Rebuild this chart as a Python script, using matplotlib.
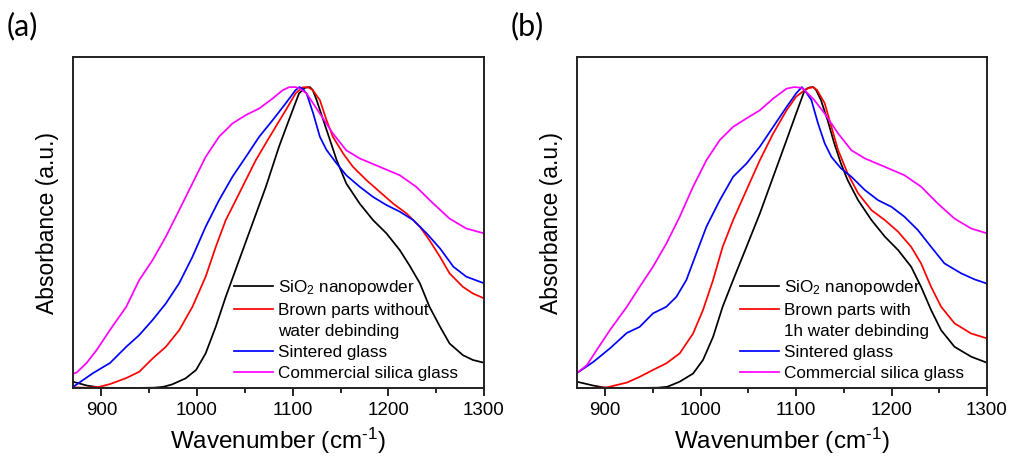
import matplotlib
matplotlib.use("Agg")
import matplotlib.pyplot as plt
from matplotlib.lines import Line2D
from matplotlib.ticker import MultipleLocator

plt.rcParams['font.family'] = ['Liberation Sans', 'DejaVu Sans']
plt.rcParams['mathtext.fontset'] = 'custom'
plt.rcParams['mathtext.rm'] = 'Liberation Sans'
plt.rcParams['mathtext.it'] = 'Liberation Sans:italic'

# ---- panel (a) ----
a_black_x = [870, 885, 900, 930, 955, 965, 974, 988, 999, 1009, 1019.6, 1030, 1044, 1058, 1072, 1085.7, 1096,
             1106.6, 1113, 1118, 1121, 1125, 1132, 1139, 1146, 1156, 1170, 1184, 1198, 1212, 1222, 1233, 1243,
             1254, 1264, 1278, 1288.5, 1300]
a_black_y = [0.021, 0.008, 0.001, 0.000, 0.001, 0.004, 0.012, 0.032, 0.060, 0.115, 0.204, 0.303, 0.425, 0.547,
             0.669, 0.802, 0.890, 0.979, 0.998, 1.000, 0.990, 0.957, 0.890, 0.824, 0.757, 0.680, 0.613, 0.558,
             0.514, 0.458, 0.408, 0.348, 0.270, 0.204, 0.148, 0.109, 0.093, 0.084]

a_red_x = [870, 885, 898, 909, 926, 939.6, 953.5, 967.4, 981.3, 995.2, 1009, 1019.6, 1030, 1040.5, 1051, 1061.4,
           1071.8, 1082.2, 1092.7, 1103, 1110, 1116, 1121, 1128.4, 1135.4, 1142, 1152.8, 1163, 1177, 1191, 1205,
           1219, 1233, 1243, 1254, 1264, 1278, 1288.5, 1300]
a_red_y = [0.002, 0.001, 0.004, 0.013, 0.033, 0.054, 0.098, 0.137, 0.192, 0.270, 0.370, 0.469, 0.558, 0.624,
           0.691, 0.757, 0.813, 0.868, 0.923, 0.979, 0.999, 1.000, 0.990, 0.957, 0.890, 0.835, 0.779, 0.735,
           0.691, 0.652, 0.613, 0.580, 0.536, 0.491, 0.436, 0.381, 0.336, 0.314, 0.298]

a_blue_x = [870.6, 891.5, 909, 926, 939.6, 953.5, 967.4, 981.3, 995.2, 1009, 1023, 1037, 1051, 1065, 1079, 1092.7,
            1103, 1107, 1110, 1114.5, 1121.5, 1128.4, 1135.4, 1146, 1156, 1170, 1184, 1198, 1212, 1226, 1240,
            1254, 1268, 1281.5, 1300]
a_blue_y = [0.004, 0.050, 0.083, 0.137, 0.176, 0.226, 0.281, 0.348, 0.436, 0.536, 0.624, 0.702, 0.768, 0.835,
            0.890, 0.946, 0.990, 1.000, 0.995, 0.979, 0.912, 0.835, 0.791, 0.746, 0.707, 0.669, 0.635, 0.608,
            0.586, 0.558, 0.514, 0.464, 0.403, 0.370, 0.348]

a_mag_x = [870, 874, 884.5, 895, 909, 926, 939.6, 953.5, 967.4, 981.3, 995.2, 1009, 1023, 1037, 1051, 1065, 1079,
           1089.6, 1096.6, 1103, 1107.5, 1114.5, 1128.4, 1142, 1156, 1170, 1191, 1212, 1229, 1247, 1264, 1281.5,
           1300]
a_mag_y = [0.047, 0.051, 0.083, 0.126, 0.193, 0.270, 0.359, 0.425, 0.503, 0.591, 0.680, 0.768, 0.835, 0.879,
           0.907, 0.929, 0.962, 0.990, 1.000, 1.000, 0.995, 0.979, 0.912, 0.846, 0.790, 0.763, 0.735, 0.707,
           0.669, 0.613, 0.563, 0.530, 0.514]

# ---- panel (b) ----
b_black_x = [870, 887.6, 900, 930, 955, 965, 978, 992, 1002.4, 1013, 1023, 1034, 1048, 1062, 1076, 1090, 1100,
             1109, 1114, 1118, 1121, 1126, 1133, 1140, 1147, 1154, 1165, 1179, 1193, 1207, 1220.6, 1231, 1241.5,
             1252, 1266, 1283.5, 1300]
b_black_y = [0.021, 0.008, 0.001, 0.000, 0.001, 0.004, 0.021, 0.048, 0.093, 0.170, 0.270, 0.359, 0.469, 0.580,
             0.702, 0.824, 0.912, 0.990, 0.999, 1.000, 0.990, 0.957, 0.890, 0.813, 0.746, 0.691, 0.624, 0.558,
             0.503, 0.458, 0.403, 0.336, 0.259, 0.192, 0.137, 0.104, 0.084]

b_red_x = [870, 881, 901.6, 922.6, 936, 950, 964, 978, 992, 1002.4, 1013, 1023, 1034, 1048, 1062, 1076, 1090,
           1100, 1111, 1118, 1122, 1130, 1137, 1144, 1154, 1165, 1179, 1193, 1207, 1220.6, 1231, 1241.5, 1252,
           1266, 1283.5, 1300]
b_red_y = [0.000, 0.000, 0.002, 0.018, 0.037, 0.060, 0.082, 0.115, 0.181, 0.259, 0.359, 0.469, 0.558, 0.658,
           0.757, 0.846, 0.923, 0.968, 0.995, 1.000, 0.990, 0.946, 0.868, 0.791, 0.713, 0.647, 0.591, 0.558,
           0.519, 0.469, 0.414, 0.336, 0.270, 0.215, 0.181, 0.165]

b_blue_x = [870, 887.6, 905, 922.6, 936, 950, 964, 974.5, 985, 995.4, 1006, 1020, 1034, 1048, 1062, 1076, 1090,
            1100, 1106, 1110, 1116, 1123, 1130, 1137, 1147, 1158, 1172, 1186, 1200, 1213.6, 1227.6, 1241.5,
            1255.5, 1273, 1287, 1300]
b_blue_y = [0.049, 0.087, 0.132, 0.183, 0.203, 0.248, 0.270, 0.303, 0.359, 0.447, 0.536, 0.624, 0.702, 0.746,
            0.802, 0.868, 0.934, 0.979, 1.000, 0.985, 0.957, 0.879, 0.813, 0.768, 0.730, 0.702, 0.658, 0.624,
            0.602, 0.569, 0.525, 0.469, 0.414, 0.381, 0.361, 0.347]

b_mag_x = [870, 880.7, 891, 905, 922.6, 936, 950, 964, 978, 992, 1006, 1020, 1034, 1048, 1062, 1076, 1090, 1098,
           1105, 1109, 1119, 1130, 1144, 1158, 1172, 1193, 1213.6, 1231, 1248.5, 1266, 1283.5, 1300]
b_mag_y = [0.049, 0.076, 0.126, 0.193, 0.270, 0.336, 0.403, 0.480, 0.569, 0.669, 0.757, 0.824, 0.868, 0.896,
           0.923, 0.962, 0.995, 1.000, 0.998, 0.990, 0.957, 0.912, 0.846, 0.790, 0.763, 0.735, 0.707, 0.669,
           0.613, 0.563, 0.530, 0.514]

labels_a = ["SiO$_2$ nanopowder", "Brown parts without", "water debinding", "Sintered glass", "Commercial silica glass"]
labels_b = ["SiO$_2$ nanopowder", "Brown parts with", "1h water debinding", "Sintered glass", "Commercial silica glass"]
colors = ["black", "#ff0000", "#0000ff", "#ff00ff"]

fig = plt.figure(figsize=(10.14, 4.65), dpi=100)
ax1 = fig.add_axes([0.0717, 0.1656, 0.4056, 0.7118])
ax2 = fig.add_axes([0.5687, 0.1656, 0.4046, 0.7118])

panels = [
    (ax1, [(a_black_x, a_black_y), (a_red_x, a_red_y), (a_blue_x, a_blue_y), (a_mag_x, a_mag_y)], labels_a, "(a)", 0.392),
    (ax2, [(b_black_x, b_black_y), (b_red_x, b_red_y), (b_blue_x, b_blue_y), (b_mag_x, b_mag_y)], labels_b, "(b)", 0.398),
]

for ax, series, labels, tag, lx in panels:
    for (xs, ys), c in zip(series, colors):
        ax.plot(xs, ys, color=c, lw=1.25)
    ax.set_xlim(870, 1300)
    ax.set_ylim(0, 1.1)
    ax.xaxis.set_major_locator(MultipleLocator(100))
    ax.xaxis.set_minor_locator(MultipleLocator(50))
    ax.tick_params(axis='x', which='major', direction='out', length=6, width=1.2, labelsize=13.5, pad=4)
    ax.tick_params(axis='x', which='minor', direction='out', length=3.5, width=1.2)
    ax.set_yticks([])
    for s in ax.spines.values():
        s.set_linewidth(1.4)
        s.set_color('#222222')
    ax.set_xlabel(r"Wavenumber (cm$^{\text{-1}}$)", fontsize=17.5, labelpad=5)
    ax.set_ylabel("Absorbance (a.u.)", fontsize=16.5, labelpad=10)

    handles = [Line2D([], [], color=colors[0], lw=1.25),
               Line2D([], [], color=colors[1], lw=1.25),
               Line2D([], [], color='none', lw=1.25),
               Line2D([], [], color=colors[2], lw=1.25),
               Line2D([], [], color=colors[3], lw=1.25)]
    ax.legend(handles, labels, loc='lower left', bbox_to_anchor=(lx, 0.02), frameon=False,
              fontsize=12.3, borderpad=0, borderaxespad=0, handlelength=2.3, handletextpad=0.3,
              labelspacing=0.36)
    ax.text(-0.16, 1.094, tag, transform=ax.transAxes, fontsize=22, family='Lato', va='center', ha='left')

fig.savefig("out.png", dpi=100)
